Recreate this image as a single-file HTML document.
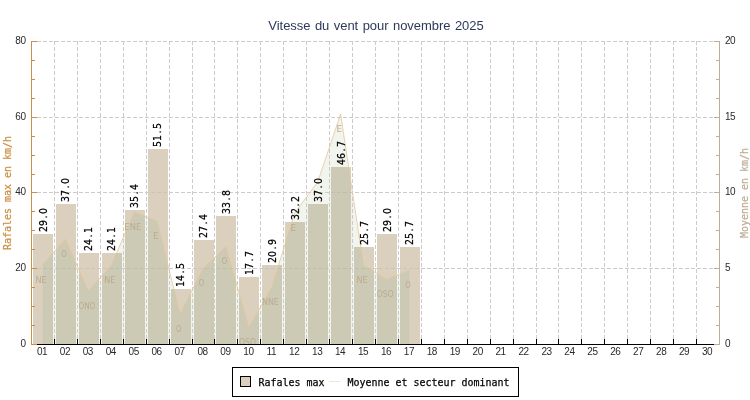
<!DOCTYPE html>
<html lang="fr"><head><meta charset="utf-8"><title>Vitesse du vent pour novembre 2025</title>
<style>html,body{margin:0;padding:0;background:#fff;overflow:hidden}svg{display:block}.t{font-family:"Liberation Sans","DejaVu Sans",sans-serif}.m{font-family:"DejaVu Sans Mono","Liberation Mono",monospace;font-size:11px;stroke-width:0.25px}.c{font-family:"DejaVu Sans Condensed","Liberation Sans",sans-serif}</style></head><body>
<svg width="750" height="400" viewBox="0 0 750 400">
<rect width="750" height="400" fill="#fff"/>
<defs><clipPath id="ac"><polygon points="42.5,344 42.5,265.0 65.4,239.0 88.3,291.0 111.3,265.4 134.2,212.0 157.1,221.0 180.1,314.0 203.0,268.5 225.9,246.4 248.9,327.4 271.8,287.0 294.7,213.0 317.7,182.0 340.6,114.0 363.5,265.0 386.5,279.4 409.4,270.0 409.4,344"/></clipPath></defs>
<polygon points="42.5,344 42.5,265.0 65.4,239.0 88.3,291.0 111.3,265.4 134.2,212.0 157.1,221.0 180.1,314.0 203.0,268.5 225.9,246.4 248.9,327.4 271.8,287.0 294.7,213.0 317.7,182.0 340.6,114.0 363.5,265.0 386.5,279.4 409.4,270.0 409.4,344" fill="#f1f5ee"/>
<g stroke="#cccccc" stroke-width="1" stroke-dasharray="4 2" shape-rendering="crispEdges" fill="none">
<line x1="54.5" y1="41" x2="54.5" y2="344"/>
<line x1="77.5" y1="41" x2="77.5" y2="344"/>
<line x1="100.5" y1="41" x2="100.5" y2="344"/>
<line x1="123.5" y1="41" x2="123.5" y2="344"/>
<line x1="146.5" y1="41" x2="146.5" y2="344"/>
<line x1="169.5" y1="41" x2="169.5" y2="344"/>
<line x1="192.5" y1="41" x2="192.5" y2="344"/>
<line x1="214.5" y1="41" x2="214.5" y2="344"/>
<line x1="237.5" y1="41" x2="237.5" y2="344"/>
<line x1="260.5" y1="41" x2="260.5" y2="344"/>
<line x1="283.5" y1="41" x2="283.5" y2="344"/>
<line x1="306.5" y1="41" x2="306.5" y2="344"/>
<line x1="329.5" y1="41" x2="329.5" y2="344"/>
<line x1="352.5" y1="41" x2="352.5" y2="344"/>
<line x1="375.5" y1="41" x2="375.5" y2="344"/>
<line x1="398.5" y1="41" x2="398.5" y2="344"/>
<line x1="421.5" y1="41" x2="421.5" y2="344"/>
<line x1="444.5" y1="41" x2="444.5" y2="344"/>
<line x1="467.5" y1="41" x2="467.5" y2="344"/>
<line x1="490.5" y1="41" x2="490.5" y2="344"/>
<line x1="513.5" y1="41" x2="513.5" y2="344"/>
<line x1="536.5" y1="41" x2="536.5" y2="344"/>
<line x1="558.5" y1="41" x2="558.5" y2="344"/>
<line x1="581.5" y1="41" x2="581.5" y2="344"/>
<line x1="604.5" y1="41" x2="604.5" y2="344"/>
<line x1="627.5" y1="41" x2="627.5" y2="344"/>
<line x1="650.5" y1="41" x2="650.5" y2="344"/>
<line x1="673.5" y1="41" x2="673.5" y2="344"/>
<line x1="696.5" y1="41" x2="696.5" y2="344"/>
<line x1="31" y1="41.5" x2="719" y2="41.5"/>
<line x1="31" y1="117.5" x2="719" y2="117.5"/>
<line x1="31" y1="192.5" x2="719" y2="192.5"/>
<line x1="31" y1="268.5" x2="719" y2="268.5"/>
</g>
<g fill="#dbd0be" shape-rendering="crispEdges">
<rect x="33" y="234" width="20" height="110"/>
<rect x="56" y="204" width="20" height="140"/>
<rect x="79" y="253" width="20" height="91"/>
<rect x="102" y="253" width="20" height="91"/>
<rect x="125" y="210" width="20" height="134"/>
<rect x="148" y="149" width="20" height="195"/>
<rect x="171" y="289" width="20" height="55"/>
<rect x="194" y="240" width="20" height="104"/>
<rect x="216" y="216" width="20" height="128"/>
<rect x="239" y="277" width="20" height="67"/>
<rect x="262" y="265" width="20" height="79"/>
<rect x="285" y="222" width="20" height="122"/>
<rect x="308" y="204" width="20" height="140"/>
<rect x="331" y="167" width="20" height="177"/>
<rect x="354" y="247" width="20" height="97"/>
<rect x="377" y="234" width="20" height="110"/>
<rect x="400" y="247" width="20" height="97"/>
</g>
<g fill="#cccab4" clip-path="url(#ac)">
<rect x="33" y="234" width="20" height="110"/>
<rect x="56" y="204" width="20" height="140"/>
<rect x="79" y="253" width="20" height="91"/>
<rect x="102" y="253" width="20" height="91"/>
<rect x="125" y="210" width="20" height="134"/>
<rect x="148" y="149" width="20" height="195"/>
<rect x="171" y="289" width="20" height="55"/>
<rect x="194" y="240" width="20" height="104"/>
<rect x="216" y="216" width="20" height="128"/>
<rect x="239" y="277" width="20" height="67"/>
<rect x="262" y="265" width="20" height="79"/>
<rect x="285" y="222" width="20" height="122"/>
<rect x="308" y="204" width="20" height="140"/>
<rect x="331" y="167" width="20" height="177"/>
<rect x="354" y="247" width="20" height="97"/>
<rect x="377" y="234" width="20" height="110"/>
<rect x="400" y="247" width="20" height="97"/>
</g>
<g stroke="#5a5040" stroke-opacity="0.09" stroke-dasharray="4 2" shape-rendering="crispEdges">
<line x1="33" y1="268.5" x2="53" y2="268.5" stroke-dashoffset="2"/>
<line x1="56" y1="268.5" x2="76" y2="268.5" stroke-dashoffset="1"/>
<line x1="79" y1="268.5" x2="99" y2="268.5" stroke-dashoffset="0"/>
<line x1="102" y1="268.5" x2="122" y2="268.5" stroke-dashoffset="5"/>
<line x1="125" y1="268.5" x2="145" y2="268.5" stroke-dashoffset="4"/>
<line x1="148" y1="192.5" x2="168" y2="192.5" stroke-dashoffset="3"/>
<line x1="148" y1="268.5" x2="168" y2="268.5" stroke-dashoffset="3"/>
<line x1="194" y1="268.5" x2="214" y2="268.5" stroke-dashoffset="1"/>
<line x1="216" y1="268.5" x2="236" y2="268.5" stroke-dashoffset="5"/>
<line x1="262" y1="268.5" x2="282" y2="268.5" stroke-dashoffset="3"/>
<line x1="285" y1="268.5" x2="305" y2="268.5" stroke-dashoffset="2"/>
<line x1="308" y1="268.5" x2="328" y2="268.5" stroke-dashoffset="1"/>
<line x1="331" y1="192.5" x2="351" y2="192.5" stroke-dashoffset="0"/>
<line x1="331" y1="268.5" x2="351" y2="268.5" stroke-dashoffset="0"/>
<line x1="354" y1="268.5" x2="374" y2="268.5" stroke-dashoffset="5"/>
<line x1="377" y1="268.5" x2="397" y2="268.5" stroke-dashoffset="4"/>
<line x1="400" y1="268.5" x2="420" y2="268.5" stroke-dashoffset="3"/>
</g>
<polyline points="42.5,265.0 65.4,239.0 88.3,291.0 111.3,265.4 134.2,212.0 157.1,221.0 180.1,314.0 203.0,268.5 225.9,246.4 248.9,327.4 271.8,287.0 294.7,213.0 317.7,182.0 340.6,114.0 363.5,265.0 386.5,279.4 409.4,270.0" fill="none" stroke="#e3c799" stroke-width="0.8"/>
<g class="c" font-size="9.5" fill="#bbab90" text-anchor="middle">
<text x="41.1" y="282.9" textLength="11.2" lengthAdjust="spacingAndGlyphs">NE</text>
<text x="64.0" y="256.9" textLength="5.5" lengthAdjust="spacingAndGlyphs">O</text>
<text x="86.9" y="308.9" textLength="16.9" lengthAdjust="spacingAndGlyphs">ONO</text>
<text x="109.9" y="283.3" textLength="11.2" lengthAdjust="spacingAndGlyphs">NE</text>
<text x="132.8" y="229.9" textLength="16.9" lengthAdjust="spacingAndGlyphs">ENE</text>
<text x="155.7" y="238.9" textLength="5.5" lengthAdjust="spacingAndGlyphs">E</text>
<text x="178.7" y="331.9" textLength="5.5" lengthAdjust="spacingAndGlyphs">O</text>
<text x="201.6" y="286.4" textLength="5.5" lengthAdjust="spacingAndGlyphs">O</text>
<text x="224.5" y="264.3" textLength="5.5" lengthAdjust="spacingAndGlyphs">O</text>
<text x="247.5" y="345.3" textLength="16.9" lengthAdjust="spacingAndGlyphs">OSO</text>
<text x="270.4" y="304.9" textLength="16.9" lengthAdjust="spacingAndGlyphs">NNE</text>
<text x="293.3" y="230.9" textLength="5.5" lengthAdjust="spacingAndGlyphs">E</text>
<text x="339.2" y="131.9" textLength="5.5" lengthAdjust="spacingAndGlyphs">E</text>
<text x="362.1" y="282.9" textLength="11.2" lengthAdjust="spacingAndGlyphs">NE</text>
<text x="385.1" y="297.3" textLength="16.9" lengthAdjust="spacingAndGlyphs">OSO</text>
<text x="408.0" y="287.9" textLength="5.5" lengthAdjust="spacingAndGlyphs">O</text>
</g>
<g font-family="DejaVu Sans, Liberation Sans, sans-serif" font-size="11" fill="#000" stroke="#000" stroke-width="0.25">
<text transform="translate(46.5,232) rotate(-90) scale(0.857,1)" x="0 7 15.75 21">29.0</text>
<text transform="translate(69.4,202) rotate(-90) scale(0.857,1)" x="0 7 15.75 21">37.0</text>
<text transform="translate(92.3,251) rotate(-90) scale(0.857,1)" x="0 7 15.75 21">24.1</text>
<text transform="translate(115.3,251) rotate(-90) scale(0.857,1)" x="0 7 15.75 21">24.1</text>
<text transform="translate(138.2,208) rotate(-90) scale(0.857,1)" x="0 7 15.75 21">35.4</text>
<text transform="translate(161.1,147) rotate(-90) scale(0.857,1)" x="0 7 15.75 21">51.5</text>
<text transform="translate(184.1,287) rotate(-90) scale(0.857,1)" x="0 7 15.75 21">14.5</text>
<text transform="translate(207.0,238) rotate(-90) scale(0.857,1)" x="0 7 15.75 21">27.4</text>
<text transform="translate(229.9,214) rotate(-90) scale(0.857,1)" x="0 7 15.75 21">33.8</text>
<text transform="translate(252.9,275) rotate(-90) scale(0.857,1)" x="0 7 15.75 21">17.7</text>
<text transform="translate(275.8,263) rotate(-90) scale(0.857,1)" x="0 7 15.75 21">20.9</text>
<text transform="translate(298.7,220) rotate(-90) scale(0.857,1)" x="0 7 15.75 21">32.2</text>
<text transform="translate(321.7,202) rotate(-90) scale(0.857,1)" x="0 7 15.75 21">37.0</text>
<text transform="translate(344.6,165) rotate(-90) scale(0.857,1)" x="0 7 15.75 21">46.7</text>
<text transform="translate(367.5,245) rotate(-90) scale(0.857,1)" x="0 7 15.75 21">25.7</text>
<text transform="translate(390.5,232) rotate(-90) scale(0.857,1)" x="0 7 15.75 21">29.0</text>
<text transform="translate(413.4,245) rotate(-90) scale(0.857,1)" x="0 7 15.75 21">25.7</text>
</g>
<g shape-rendering="crispEdges" fill="none">
<line x1="31" y1="344.5" x2="719" y2="344.5" stroke="#000"/>
<line x1="54.5" y1="339" x2="54.5" y2="345" stroke="#000"/>
<line x1="77.5" y1="339" x2="77.5" y2="345" stroke="#000"/>
<line x1="100.5" y1="339" x2="100.5" y2="345" stroke="#000"/>
<line x1="123.5" y1="339" x2="123.5" y2="345" stroke="#000"/>
<line x1="146.5" y1="339" x2="146.5" y2="345" stroke="#000"/>
<line x1="169.5" y1="339" x2="169.5" y2="345" stroke="#000"/>
<line x1="192.5" y1="339" x2="192.5" y2="345" stroke="#000"/>
<line x1="214.5" y1="339" x2="214.5" y2="345" stroke="#000"/>
<line x1="237.5" y1="339" x2="237.5" y2="345" stroke="#000"/>
<line x1="260.5" y1="339" x2="260.5" y2="345" stroke="#000"/>
<line x1="283.5" y1="339" x2="283.5" y2="345" stroke="#000"/>
<line x1="306.5" y1="339" x2="306.5" y2="345" stroke="#000"/>
<line x1="329.5" y1="339" x2="329.5" y2="345" stroke="#000"/>
<line x1="352.5" y1="339" x2="352.5" y2="345" stroke="#000"/>
<line x1="375.5" y1="339" x2="375.5" y2="345" stroke="#000"/>
<line x1="398.5" y1="339" x2="398.5" y2="345" stroke="#000"/>
<line x1="421.5" y1="339" x2="421.5" y2="345" stroke="#000"/>
<line x1="444.5" y1="339" x2="444.5" y2="345" stroke="#000"/>
<line x1="467.5" y1="339" x2="467.5" y2="345" stroke="#000"/>
<line x1="490.5" y1="339" x2="490.5" y2="345" stroke="#000"/>
<line x1="513.5" y1="339" x2="513.5" y2="345" stroke="#000"/>
<line x1="536.5" y1="339" x2="536.5" y2="345" stroke="#000"/>
<line x1="558.5" y1="339" x2="558.5" y2="345" stroke="#000"/>
<line x1="581.5" y1="339" x2="581.5" y2="345" stroke="#000"/>
<line x1="604.5" y1="339" x2="604.5" y2="345" stroke="#000"/>
<line x1="627.5" y1="339" x2="627.5" y2="345" stroke="#000"/>
<line x1="650.5" y1="339" x2="650.5" y2="345" stroke="#000"/>
<line x1="673.5" y1="339" x2="673.5" y2="345" stroke="#000"/>
<line x1="696.5" y1="339" x2="696.5" y2="345" stroke="#000"/>
<line x1="31.5" y1="41" x2="31.5" y2="345" stroke="#cc8f45"/>
<line x1="719.5" y1="41" x2="719.5" y2="345" stroke="#bfad96"/>
<line x1="31" y1="41.5" x2="37" y2="41.5" stroke="#cc8f45"/>
<line x1="714" y1="41.5" x2="720" y2="41.5" stroke="#bfad96"/>
<line x1="31" y1="60.5" x2="35" y2="60.5" stroke="#cc8f45"/>
<line x1="716" y1="60.5" x2="720" y2="60.5" stroke="#bfad96"/>
<line x1="31" y1="79.5" x2="35" y2="79.5" stroke="#cc8f45"/>
<line x1="716" y1="79.5" x2="720" y2="79.5" stroke="#bfad96"/>
<line x1="31" y1="98.5" x2="35" y2="98.5" stroke="#cc8f45"/>
<line x1="716" y1="98.5" x2="720" y2="98.5" stroke="#bfad96"/>
<line x1="31" y1="117.5" x2="37" y2="117.5" stroke="#cc8f45"/>
<line x1="714" y1="117.5" x2="720" y2="117.5" stroke="#bfad96"/>
<line x1="31" y1="136.5" x2="35" y2="136.5" stroke="#cc8f45"/>
<line x1="716" y1="136.5" x2="720" y2="136.5" stroke="#bfad96"/>
<line x1="31" y1="155.5" x2="35" y2="155.5" stroke="#cc8f45"/>
<line x1="716" y1="155.5" x2="720" y2="155.5" stroke="#bfad96"/>
<line x1="31" y1="174.5" x2="35" y2="174.5" stroke="#cc8f45"/>
<line x1="716" y1="174.5" x2="720" y2="174.5" stroke="#bfad96"/>
<line x1="31" y1="192.5" x2="37" y2="192.5" stroke="#cc8f45"/>
<line x1="714" y1="192.5" x2="720" y2="192.5" stroke="#bfad96"/>
<line x1="31" y1="211.5" x2="35" y2="211.5" stroke="#cc8f45"/>
<line x1="716" y1="211.5" x2="720" y2="211.5" stroke="#bfad96"/>
<line x1="31" y1="230.5" x2="35" y2="230.5" stroke="#cc8f45"/>
<line x1="716" y1="230.5" x2="720" y2="230.5" stroke="#bfad96"/>
<line x1="31" y1="249.5" x2="35" y2="249.5" stroke="#cc8f45"/>
<line x1="716" y1="249.5" x2="720" y2="249.5" stroke="#bfad96"/>
<line x1="31" y1="268.5" x2="37" y2="268.5" stroke="#cc8f45"/>
<line x1="714" y1="268.5" x2="720" y2="268.5" stroke="#bfad96"/>
<line x1="31" y1="287.5" x2="35" y2="287.5" stroke="#cc8f45"/>
<line x1="716" y1="287.5" x2="720" y2="287.5" stroke="#bfad96"/>
<line x1="31" y1="306.5" x2="35" y2="306.5" stroke="#cc8f45"/>
<line x1="716" y1="306.5" x2="720" y2="306.5" stroke="#bfad96"/>
<line x1="31" y1="325.5" x2="35" y2="325.5" stroke="#cc8f45"/>
<line x1="716" y1="325.5" x2="720" y2="325.5" stroke="#bfad96"/>
<line x1="31" y1="344.5" x2="37" y2="344.5" stroke="#cc8f45"/>
<line x1="714" y1="344.5" x2="720" y2="344.5" stroke="#bfad96"/>
</g>
<g class="t" font-size="10" letter-spacing="-0.45" fill="#2a2a2a">
<text x="25.5" y="44.1" text-anchor="end">80</text>
<text x="725" y="44.1">20</text>
<text x="25.5" y="120.1" text-anchor="end">60</text>
<text x="725" y="120.1">15</text>
<text x="25.5" y="195.1" text-anchor="end">40</text>
<text x="725" y="195.1">10</text>
<text x="25.5" y="271.1" text-anchor="end">20</text>
<text x="725" y="271.1">5</text>
<text x="25.5" y="347.1" text-anchor="end">0</text>
<text x="725" y="347.1">0</text>
<text x="42.0" y="355" text-anchor="middle">01</text>
<text x="64.9" y="355" text-anchor="middle">02</text>
<text x="87.8" y="355" text-anchor="middle">03</text>
<text x="110.8" y="355" text-anchor="middle">04</text>
<text x="133.7" y="355" text-anchor="middle">05</text>
<text x="156.6" y="355" text-anchor="middle">06</text>
<text x="179.6" y="355" text-anchor="middle">07</text>
<text x="202.5" y="355" text-anchor="middle">08</text>
<text x="225.4" y="355" text-anchor="middle">09</text>
<text x="248.4" y="355" text-anchor="middle">10</text>
<text x="271.3" y="355" text-anchor="middle">11</text>
<text x="294.2" y="355" text-anchor="middle">12</text>
<text x="317.2" y="355" text-anchor="middle">13</text>
<text x="340.1" y="355" text-anchor="middle">14</text>
<text x="363.0" y="355" text-anchor="middle">15</text>
<text x="386.0" y="355" text-anchor="middle">16</text>
<text x="408.9" y="355" text-anchor="middle">17</text>
<text x="431.8" y="355" text-anchor="middle">18</text>
<text x="454.8" y="355" text-anchor="middle">19</text>
<text x="477.7" y="355" text-anchor="middle">20</text>
<text x="500.6" y="355" text-anchor="middle">21</text>
<text x="523.6" y="355" text-anchor="middle">22</text>
<text x="546.5" y="355" text-anchor="middle">23</text>
<text x="569.4" y="355" text-anchor="middle">24</text>
<text x="592.4" y="355" text-anchor="middle">25</text>
<text x="615.3" y="355" text-anchor="middle">26</text>
<text x="638.2" y="355" text-anchor="middle">27</text>
<text x="661.2" y="355" text-anchor="middle">28</text>
<text x="684.1" y="355" text-anchor="middle">29</text>
<text x="707.0" y="355" text-anchor="middle">30</text>
</g>
<text class="t" x="376" y="29.5" font-size="13" letter-spacing="-0.05" word-spacing="0.95" fill="#2f3a5a" text-anchor="middle">Vitesse du vent pour novembre 2025</text>
<text class="m" fill="#cc8f45" stroke="#cc8f45" transform="translate(11,250) rotate(-90)" textLength="114" lengthAdjust="spacingAndGlyphs">Rafales max en km/h</text>
<text class="m" fill="#bfad96" stroke="#bfad96" transform="translate(748.3,238) rotate(-90)" textLength="90" lengthAdjust="spacingAndGlyphs">Moyenne en km/h</text>
<rect x="232.5" y="367.5" width="286" height="29" fill="#fff" stroke="#000" shape-rendering="crispEdges"/>
<rect x="240.5" y="376.5" width="10" height="10" fill="#dbd0be" stroke="#000" shape-rendering="crispEdges"/>
<text class="m" x="258.5" y="386" textLength="66" lengthAdjust="spacingAndGlyphs" fill="#000" stroke="#000">Rafales max</text>
<line x1="329" y1="381.5" x2="340" y2="381.5" stroke="#f5e4cb" shape-rendering="crispEdges"/>
<text class="m" x="347.5" y="386" textLength="162" lengthAdjust="spacingAndGlyphs" fill="#000" stroke="#000">Moyenne et secteur dominant</text>
</svg></body></html>
